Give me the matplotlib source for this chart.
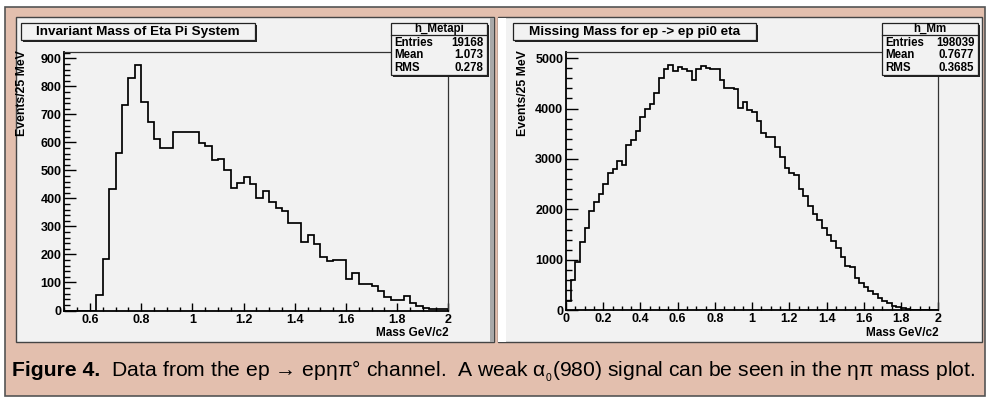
import numpy as np
import matplotlib
matplotlib.use("Agg")
import matplotlib.pyplot as plt
from matplotlib.patches import Rectangle
from matplotlib.ticker import MultipleLocator, FuncFormatter

plt.rcParams['font.family'] = ['Liberation Sans', 'DejaVu Sans']
plt.rcParams['mathtext.fontset'] = 'custom'
plt.rcParams['mathtext.rm'] = 'Liberation Sans'
plt.rcParams['mathtext.it'] = 'Liberation Sans'

# ---------------- data ----------------
metapi_title = "Invariant Mass of Eta Pi System"
metapi_name = "h_Metapi"
metapi_stat_labels = ["Entries", "Mean", "RMS"]
metapi_stat_values = ["19168", "1.073", "0.278"]
metapi_bin_start = 0.5
metapi_bin_width = 0.025
metapi_counts = [0, 0, 0, 0, 0, 55, 185, 433, 562, 734,
                 831, 878, 745, 674, 612, 580, 580, 637, 637, 637,
                 637, 598, 588, 539, 540, 501, 436, 457, 478, 451,
                 402, 428, 387, 367, 354, 312, 314, 246, 268, 237,
                 191, 177, 182, 182, 111, 134, 94, 94, 87, 69,
                 48, 38, 38, 51, 28, 17, 10, 5, 5, 5]

mm_title = "Missing Mass for ep -> ep pi0 eta"
mm_name = "h_Mm"
mm_stat_labels = ["Entries", "Mean", "RMS"]
mm_stat_values = ["198039", "0.7677", "0.3685"]
mm_bin_start = 0.0
mm_bin_width = 0.025
mm_counts = [185, 595, 954, 1352, 1630, 1962, 2140, 2313, 2498, 2717,
             2803, 2956, 2883, 3267, 3373, 3545, 3823, 3989, 4082, 4307,
             4612, 4785, 4871, 4751, 4825, 4791, 4740, 4572, 4791, 4837,
             4804, 4785, 4785, 4572, 4413, 4413, 4387, 4009, 4135, 3963,
             3923, 3757, 3512, 3433, 3433, 3227, 3048, 2816, 2730, 2690,
             2405, 2273, 2068, 1915, 1790, 1622, 1490, 1380, 1234, 1058,
             876, 850, 648, 547, 455, 390, 320, 245, 192, 135,
             90, 60, 37, 22, 10, 5, 2, 1, 0, 0]

y_label = "Events/25 MeV"
x_label = "Mass GeV/c2"
caption_bold = "Figure 4."
caption_rest = "  Data from the ep \u2192 ep\u03b7\u03c0\u00b0 channel.  A weak \u03b1$_{_0}$(980) signal can be seen in the \u03b7\u03c0 mass plot."

# ---------------- style ----------------
SALMON = "#e3bfae"
PANEL = "#f2f2f2"
EDGE = "#555555"

W, H = 987, 399
fig = plt.figure(figsize=(W / 100, H / 100), dpi=100)
fig.patch.set_facecolor("white")


def frac(x0, y0, x1, y1):
    return [x0 / W, 1 - y1 / H, (x1 - x0) / W, (y1 - y0) / H]


bg = fig.add_axes([0, 0, 1, 1], zorder=0)
bg.set_xlim(0, W); bg.set_ylim(H, 0); bg.axis("off")
fg = fig.add_axes([0, 0, 1, 1], zorder=10)
fg.set_xlim(0, W); fg.set_ylim(H, 0); fg.axis("off")
fg.patch.set_alpha(0)

# outer salmon box
bg.add_patch(Rectangle((4.5, 6.5), 980, 389.5, facecolor=SALMON, edgecolor=EDGE, lw=1.2))
# panels
bg.add_patch(Rectangle((15.5, 17), 478, 325, facecolor=PANEL, edgecolor="#444444", lw=1.0))
bg.add_patch(Rectangle((489.5, 17.5), 4, 324, facecolor="#a8a8a8", edgecolor="none"))
bg.add_patch(Rectangle((497.5, 17), 484, 325, facecolor=PANEL, edgecolor="#444444", lw=1.0))
bg.add_patch(Rectangle((498, 17.5), 8, 324, facecolor="white", edgecolor="none"))


def shadow_box(x0, y0, x1, y1):
    fg.add_patch(Rectangle((x0 + 2, y0 + 2), x1 - x0, y1 - y0, facecolor="#222222", edgecolor="none"))
    fg.add_patch(Rectangle((x0, y0), x1 - x0, y1 - y0, facecolor=PANEL, edgecolor="#222222", lw=0.9))


def fmt(v, pos):
    return f"{v:g}"


def make_hist(box, counts, start, width, xlim, ymajor, yminor, title, title_box, name, labels, values, stat_box, ylab_x):
    ax = fig.add_axes(frac(*box), zorder=5)
    ax.patch.set_alpha(0)
    edges = start + width * np.arange(len(counts) + 1)
    ax.stairs(counts, edges, color="black", linewidth=1.25)
    ax.set_xlim(*xlim)
    ax.set_ylim(0, 1.05 * max(counts))
    ax.xaxis.set_major_locator(MultipleLocator(0.2))
    ax.xaxis.set_minor_locator(MultipleLocator(0.05))
    ax.yaxis.set_major_locator(MultipleLocator(ymajor))
    ax.yaxis.set_minor_locator(MultipleLocator(yminor))
    ax.xaxis.set_major_formatter(FuncFormatter(fmt))
    ax.yaxis.set_major_formatter(FuncFormatter(fmt))
    ax.tick_params(which="both", direction="in", top=False, right=False, width=1.0, color="black")
    ax.tick_params(axis="y", which="major", length=8.3, pad=2)
    ax.tick_params(axis="y", which="minor", length=4.2)
    ax.tick_params(axis="x", which="major", length=5.5, pad=2.2)
    ax.tick_params(axis="x", which="minor", length=2.8)
    for lab in ax.get_xticklabels() + ax.get_yticklabels():
        lab.set_fontweight("bold")
        lab.set_fontsize(9)
    for s in ["left", "bottom"]:
        ax.spines[s].set_linewidth(1.3)
    for s in ["top", "right"]:
        ax.spines[s].set_linewidth(0.9)
        ax.spines[s].set_color("#333333")

    # title box
    tx0, ty0, tx1, ty1 = title_box
    shadow_box(tx0, ty0, tx1, ty1)
    fg.text((tx0 + tx1) / 2, (ty0 + ty1) / 2 + 0.5, title, ha="center", va="center",
            fontsize=9.7, fontweight="bold")

    # stats box
    sx0, sy0, sx1, sy1 = stat_box
    shadow_box(sx0, sy0, sx1, sy1)
    fg.plot([sx0, sx1], [sy0 + 12.5, sy0 + 12.5], color="#222222", lw=0.9)
    fg.text((sx0 + sx1) / 2, sy0 + 6.5, name, ha="center", va="center", fontsize=8.3, fontweight="bold")
    for i, (l, v) in enumerate(zip(labels, values)):
        yy = sy0 + 20 + i * 12.5
        fg.text(sx0 + 4, yy, l, ha="left", va="center", fontsize=8.3, fontweight="bold")
        fg.text(sx1 - 4, yy, v, ha="right", va="center", fontsize=8.3, fontweight="bold")

    # axis titles
    fg.text(ylab_x, 50, y_label, rotation=90, ha="center", va="top", fontsize=8.8, fontweight="bold")
    fg.text(box[2], 333, x_label, ha="right", va="center", fontsize=8.5, fontweight="bold")
    return ax


make_hist((64.4, 52.3, 448.3, 310.5), metapi_counts, metapi_bin_start, metapi_bin_width,
          (0.5, 2.0), 100, 20, metapi_title, (21, 22.7, 255, 40), metapi_name,
          metapi_stat_labels, metapi_stat_values, (390.7, 22.7, 487, 75), 22.5)
make_hist((566, 52.3, 938.3, 310.2), mm_counts, mm_bin_start, mm_bin_width,
          (0.0, 2.0), 1000, 200, mm_title, (512.7, 22.7, 755.7, 40), mm_name,
          mm_stat_labels, mm_stat_values, (881.7, 22.7, 978.3, 75), 523)

# caption
cap_size = 15.2
t1 = fg.text(12, 376, caption_bold, ha="left", va="baseline", fontsize=cap_size, fontweight="bold")
fig.canvas.draw()
bb = t1.get_window_extent()
fg.text(bb.x1, 376, caption_rest, ha="left", va="baseline", fontsize=cap_size)

fig.savefig("out.png", dpi=100, facecolor="white")
